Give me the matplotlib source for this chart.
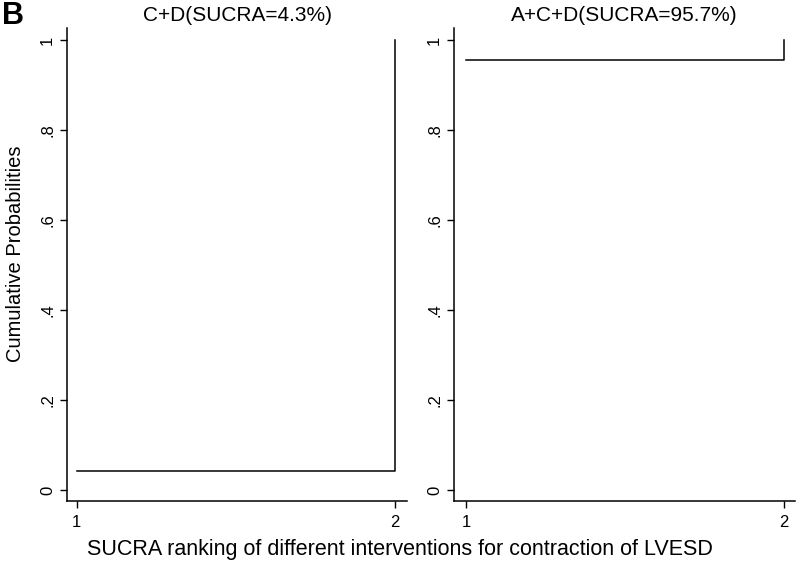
# SUCRA累積確率プロット（Stata風の2パネル）
import matplotlib
matplotlib.use("Agg")
import matplotlib.pyplot as plt

plt.rcParams["font.family"] = ["Liberation Sans", "DejaVu Sans"]

ranks = [1, 2]
titles = ["C+D(SUCRA=4.3%)", "A+C+D(SUCRA=95.7%)"]
cum_probs = [
    [0.043, 1.0],
    [0.957, 1.0],
]
yticks = [0, 0.2, 0.4, 0.6, 0.8, 1.0]
ytick_labels = ["0", ".2", ".4", ".6", ".8", "1"]

fig = plt.figure(figsize=(8, 5.66), dpi=100)
positions = [
    [0.08375, 0.1148, 0.425, 0.8357],
    [0.5675, 0.1148, 0.426, 0.8357],
]
xlims = [(0.969, 2.038), (0.962, 2.035)]

for pos, title, probs, xl in zip(positions, titles, cum_probs, xlims):
    ax = fig.add_axes(pos)
    ax.step(ranks, probs, where="post", color="black", lw=1.1)
    ax.set_xlim(*xl)
    ax.set_ylim(-0.024, 1.027)
    ax.set_xticks(ranks)
    ax.set_yticks(yticks)
    ax.set_yticklabels(ytick_labels, rotation=90, va="center")
    ax.tick_params(labelsize=12, length=5, width=1, color="black")
    ax.tick_params(axis="x", pad=5)
    for s in ["top", "right"]:
        ax.spines[s].set_visible(False)
    for s in ["left", "bottom"]:
        ax.spines[s].set_linewidth(1.1)
    ax.set_title(title, fontsize=15, pad=5)

fig.text(0.003, 0.998, "B", fontsize=22, fontweight="bold", va="top", ha="left")
fig.text(0.019, 0.551, "Cumulative Probabilities", rotation=90, fontsize=14.5,
         ha="center", va="center")
fig.text(0.5, 0.03, "SUCRA ranking of different interventions for contraction of LVESD",
         fontsize=15.5, ha="center", va="center")

fig.savefig("out.png", dpi=100)
